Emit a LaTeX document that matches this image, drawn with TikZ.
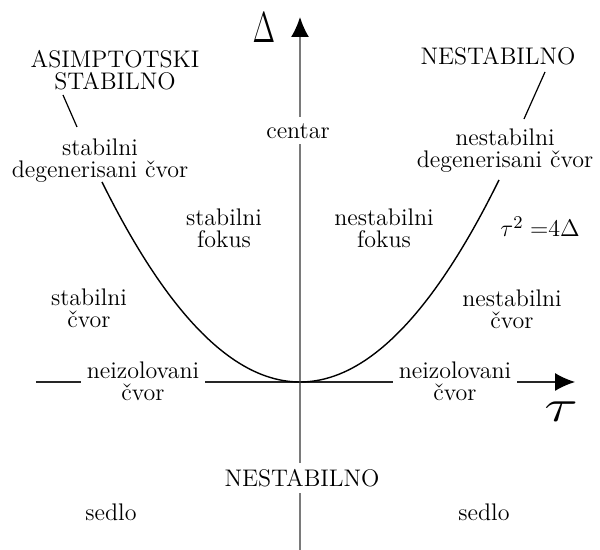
\documentclass[tikz,border=0pt]{standalone}
\usepackage{graphicx}
\usetikzlibrary{arrows.meta}
\definecolor{axgrey}{HTML}{7A7A7A}
\tikzset{
  lbl/.style  = {font=\fontsize{12}{11}\selectfont, align=center, inner sep=0pt},
  mask/.style = {lbl, fill=white, inner xsep=3pt, inner ysep=3pt},
  axv/.style  = {draw=axgrey, line width=0.8pt, -{Latex[length=10pt,width=9pt,color=black]}},
  axh/.style  = {draw=black!85, line width=0.6pt, -{Latex[length=10pt,width=9pt,color=black]}},
  curve/.style= {draw=black, line width=0.7pt},
  lead/.style = {draw=black, line width=0.6pt},
}
\begin{document}
\begin{tikzpicture}[x=0.5pt,y=0.5pt]
  \useasboundingbox (-300,-168) rectangle (300,382);
  % axes
  \coordinate (hl) at (-264,0);
  \coordinate (hr) at (275,0);
  \coordinate (vb) at (0,-168);
  \coordinate (vt) at (0,365);
  \draw[axh] (hl) -- (hr);
  \draw[axv] (vb) -- (vt);
  % tau^2 = 4 Delta
  \draw[curve] plot[domain=-198:199, samples=100, smooth] (\x, {(\x/14)^2});
  % labels that cut the axes
  \node[mask] (neizl) at (-157,1) {neizolovani\\čvor};
  \node[mask] (neizr) at (155,1)  {neizolovani\\čvor};
  \node[mask] (cent)  at (-2,251) {centar};
  \node[mask] (nestb) at (2,-96)  {NESTABILNO};
  % regions
  \node[lbl] (asim)  at (-185,312) {ASIMPTOTSKI\\STABILNO};
  \node[lbl] (sdeg)  at (-200,221) {stabilni\\degenerisani čvor};
  \node[lbl] (nestt) at (198,326)  {NESTABILNO};
  \node[lbl] (ndeg)  at (205,231)  {nestabilni\\degenerisani čvor};
  \node[lbl] (sfok)  at (-76,154)  {stabilni\\fokus};
  \node[lbl] (nfok)  at (84,154)   {nestabilni\\fokus};
  \node[lbl] (scv)   at (-211,74)  {stabilni\\čvor};
  \node[lbl] (ncv)   at (212,73)   {nestabilni\\čvor};
  \node[lbl] (sedl)  at (-189,-130) {sedlo};
  \node[lbl] (sedr)  at (184,-130)  {sedlo};
  \node[lbl, anchor=base west, font=\fontsize{13}{13}\selectfont] (parab) at (200,145) {$\tau^2\;{=}4\Delta$};
  \node[lbl] (delta) at (-36,354) {\scalebox{1.15}[1.8]{$\Delta$}};
  \node[lbl] (tau)   at (261,-30) {\scalebox{2.6}[1.9]{$\tau$}};
  % leaders
  \coordinate (la1) at (-237,287);
  \coordinate (la2) at (-223,255);
  \coordinate (lb1) at (245,310);
  \coordinate (lb2) at (224,263);
  \draw[lead] (la1) -- (la2);
  \draw[lead] (lb1) -- (lb2);
\end{tikzpicture}
\end{document}
